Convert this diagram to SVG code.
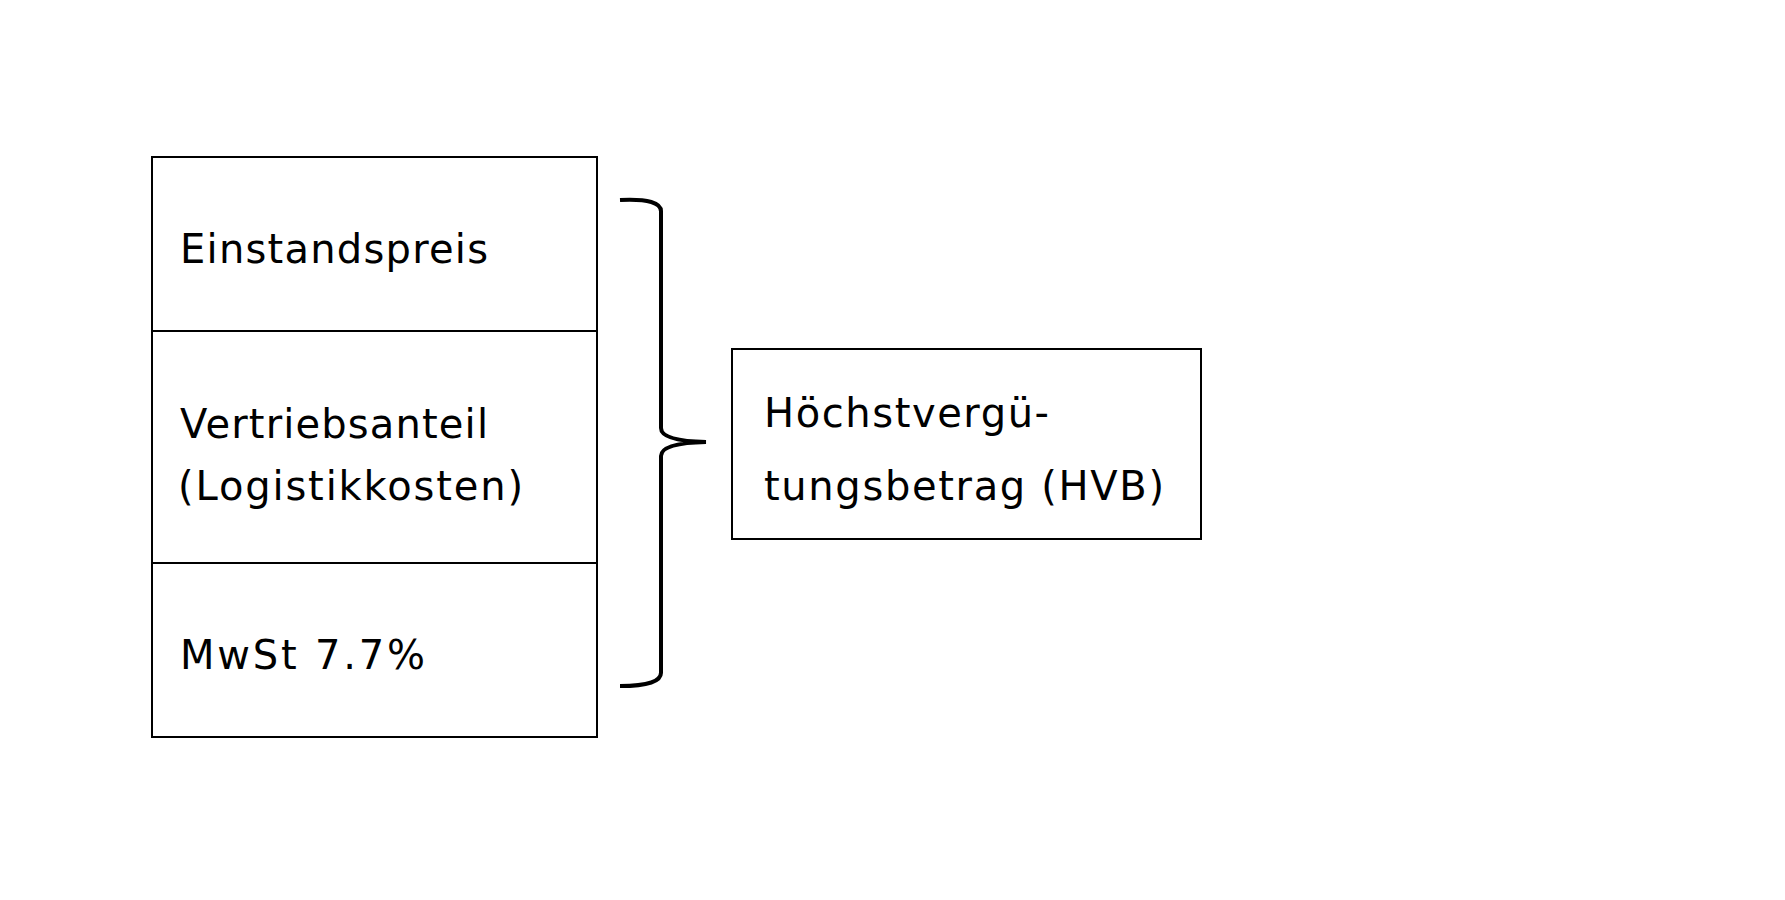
<svg xmlns="http://www.w3.org/2000/svg" width="1785" height="900" viewBox="0 0 1785 900">
<style>
.b{fill:#fff;stroke:#000;stroke-width:2}
.t{font-family:"DejaVu Sans",Verdana,sans-serif;font-size:40px;fill:#000}
.c{fill:none;stroke:#000;stroke-width:4}
</style>
<rect width="1785" height="900" fill="#fff"/>
<g id="einstandspreis"><rect class="b" x="152" y="157" width="445" height="174"/><text class="t" x="180" y="263" textLength="308">Einstandspreis</text></g>
<g id="vertriebsanteil"><rect class="b" x="152" y="331" width="445" height="232"/><text class="t" x="180" y="438" textLength="308">Vertriebsanteil</text><text class="t" x="178" y="500" textLength="345">(Logistikkosten)</text></g>
<g id="mwst"><rect class="b" x="152" y="563" width="445" height="174"/><text class="t" x="180" y="669" textLength="245">MwSt 7.7%</text></g>
<g id="hvb"><rect class="b" x="732" y="349" width="469" height="190"/><text class="t" x="764" y="427" textLength="285">Höchstvergü-</text><text class="t" x="764" y="500" textLength="400">tungsbetrag (HVB)</text></g>
<g id="connectors"><path class="c" d="M620 200 Q662 198 661 212 L661 428 Q661 441 706 442 Q661 443 661 456 L661 672 Q662 686 620 686"/></g>
</svg>
